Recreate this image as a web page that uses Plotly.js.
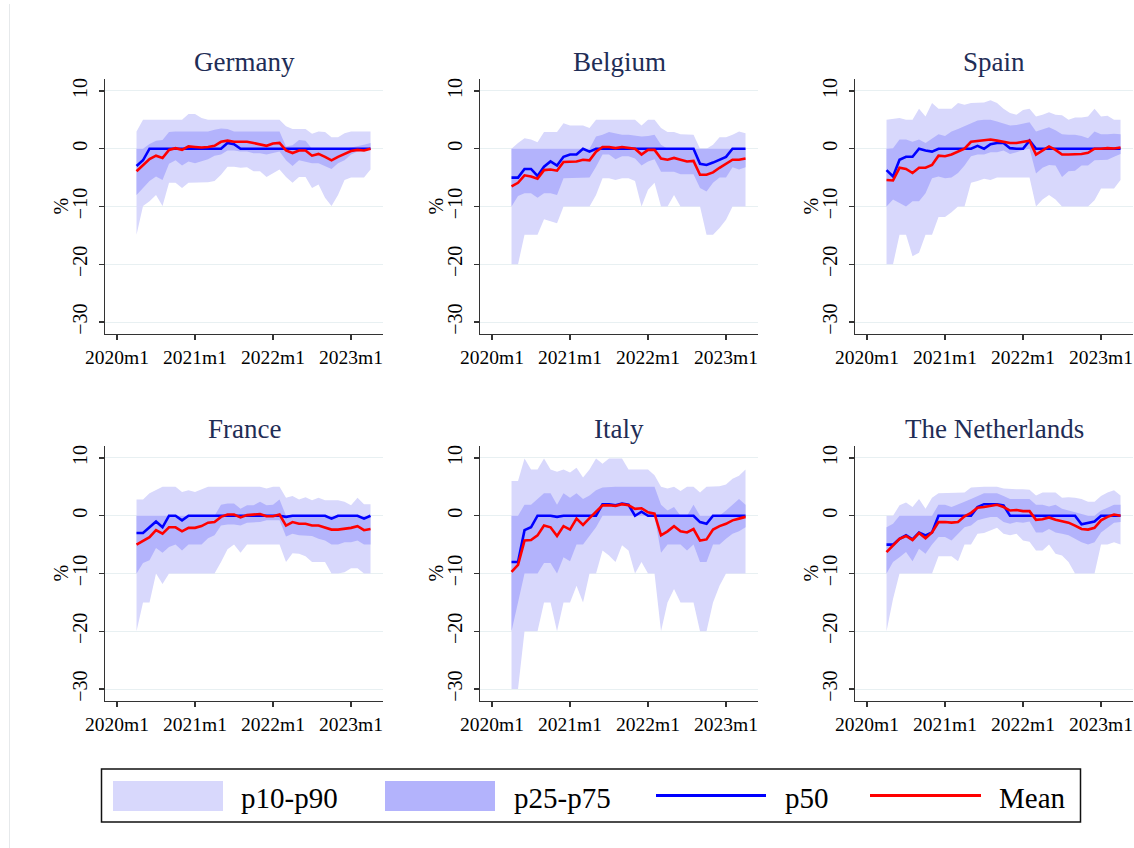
<!DOCTYPE html>
<html>
<head>
<meta charset="utf-8">
<script src="https://cdn.plot.ly/plotly-3.0.1.min.js"></script>
<style>html,body{margin:0;padding:0;background:#fff;}#chart{width:1134px;height:848px;}</style>
</head>
<body>
<div id="chart"></div>
<script>
// ---------- DATA ----------
const months = ['2020m4','2020m5','2020m6','2020m7','2020m8','2020m9','2020m10','2020m11','2020m12',
  '2021m1','2021m2','2021m3','2021m4','2021m5','2021m6','2021m7','2021m8','2021m9','2021m10','2021m11','2021m12',
  '2022m1','2022m2','2022m3','2022m4','2022m5','2022m6','2022m7','2022m8','2022m9','2022m10','2022m11','2022m12',
  '2023m1','2023m2','2023m3','2023m4'];
const tickLabels = ['2020m1','2021m1','2022m1','2023m1'];
const yTicks = [-30,-20,-10,0,10];
const countries = ['Germany','Belgium','Spain','France','Italy','The Netherlands'];
const seriesNames = ['p10-p90','p25-p75','p50','Mean'];
const yTitle = '%';

// Germany
const de_p10 = [-14.9,-9.9,-9.1,-8,-9.9,-5.9,-5.9,-6.8,-5.9,-5.9,-5.9,-5.8,-5.6,-4.5,-3.1,-3.1,-3.3,-3.2,-3.9,-3.9,-4.9,-4.2,-3.6,-4.9,-5.9,-4.9,-4.9,-6.8,-6.2,-8.5,-9.9,-8,-5.4,-5,-5,-5,-3.6];
const de_p25 = [-8,-6.8,-5.6,-4.8,-5.4,-2.6,-2,-2.9,-2.2,-2.5,-2.2,-1.8,-1.2,-1,-0.3,-0.3,-0.5,-0.5,-0.8,-0.8,-1,-0.8,-0.5,-2,-3,-2,-2.2,-2.5,-2.5,-3,-3.5,-2.5,-2,-1,-0.5,-0.3,0];
const de_p50 = [-3,-2,0,0,0,0,0,0,0,0,0,0,0,0,1,0.8,0,0,0,0,0,0,0,0,0,0,0,0,0,0,0,0,0,0,0,0,0];
const de_p75 = [0,0,0.8,1.4,1.5,2.9,3,3,3,3,3,3,3.3,3.5,3.4,3,3,3,3,3,3,3,3,0.4,0.6,1.5,1.4,0,0,0,0,0,0,0.2,0.4,0.7,1];
const de_p90 = [3,5,5,5,5,5,5,5,6,6,5.3,5,5,5,5,5,5,5,5,5,5,5,5,3.9,3.4,3.4,3.4,2.6,3,2.9,2,2,2.7,3,3,3.1,3];
const de_mean = [-3.9,-2.8,-1.8,-1.2,-1.6,-0.2,0.1,-0.2,0.4,0.3,0.2,0.3,0.5,1.2,1.4,1.2,1.2,1.2,1,0.8,0.5,0.9,1,-0.3,-0.75,-0.3,-0.3,-1.2,-0.9,-1.4,-2,-1.4,-0.9,-0.4,-0.2,-0.3,0];

// Belgium
const be_p10 = [-20,-20,-14.9,-14.9,-14.9,-12.2,-12.6,-12.9,-10,-10,-10,-10,-10,-8,-5.1,-5.1,-5.4,-5.1,-5.1,-5.6,-10,-7.1,-5.9,-10,-10,-8,-10,-10,-10,-10,-14.9,-14.9,-13.7,-12.3,-10,-10,-10];
const be_p25 = [-10,-8.2,-7.7,-7.7,-8.5,-7.7,-7.7,-8,-5.1,-5.1,-5,-5,-5,-3.1,-1,-1,-1.8,-1.3,-1.3,-1.7,-2.9,-2.2,-1.8,-4,-4,-4,-4.4,-4.4,-4.4,-6.8,-7.4,-5.9,-5,-5,-3.2,-3.6,-3.2];
const be_p50 = [-5,-5,-3.5,-3.5,-4.7,-3.1,-2.2,-2.9,-1.4,-1,-1,0,-0.5,0,0,0,0,0,0,0,0,0,0,0,0,0,0,0,0,-2.6,-2.8,-2.4,-1.9,-1.4,0,0,0];
const be_p75 = [0,0,0,0,0,0,0,0,0,0,0,0,0,2.1,2.4,2.9,2.7,2.4,2.4,2.2,2.1,2.2,2.4,0.7,0,0,0,0,0,0,0,0,0,0,0,0,0];
const be_p90 = [0,1,1.8,1.6,1.1,2.9,2.9,2.9,4.4,4,4,4,3.6,5,5,5,5,5,5,5,4,5,5,3.6,2.9,2.9,2.5,2.4,2.4,0,0,0.7,2,2,2.4,3,2.7];
const be_mean = [-6.5,-5.9,-4.6,-4.8,-5.2,-3.7,-3.6,-3.8,-2.3,-2.3,-2.2,-1.9,-2,-0.5,0.3,0.3,0.1,0.3,0.1,0,-1,-0.2,-0.2,-1.7,-1.9,-1.6,-1.9,-2.2,-2.1,-4.5,-4.5,-4.1,-3.3,-2.6,-1.9,-1.9,-1.7];

// Spain
const es_p10 = [-20,-20,-14.9,-14.9,-18.6,-18,-14.9,-14.9,-11.8,-11.8,-11,-10,-10,-5.9,-5.6,-5.2,-5.4,-5,-5,-5,-5,-5,-5,-10,-8.8,-8,-8.8,-10,-10,-10,-10,-10,-8.9,-6.9,-6.9,-6.9,-5.4];
const es_p25 = [-10,-8.8,-9.4,-10,-9.1,-9.1,-7.7,-5.1,-4.8,-5.1,-5,-4.2,-2.9,-1.3,-1,-1,-0.6,-0.6,-0.3,-0.9,-0.6,-0.2,0,-4.3,-3.3,-2.8,-2.9,-4.9,-3.9,-3.8,-2.9,-2.9,-2,-1.9,-1.9,-1.4,-0.9];
const es_p50 = [-3.7,-4.8,-1.9,-1.4,-1.4,0,-0.3,-0.5,0,0,0,0,0,0,0.5,0,0.8,1,1,0.1,0,0,1.4,0,0,0,0,0,0,0,0,0,0,0,0,0,0];
const es_p75 = [0,0.1,1.6,1.6,1.2,1.6,1,1.8,2.5,2.2,3,3.4,3.9,4.4,4.9,5,5,4.7,4.4,4,4.1,4.3,4.6,3,3.3,3.7,3.2,2.5,2.4,2.4,2.2,1.8,3,2.5,2.5,2.6,2.5];
const es_p90 = [5,5.1,5.3,5,5,6.9,5.6,7.9,6.9,6.9,6.9,7.9,7.6,7.9,7.9,8,8.4,7.9,6.9,6.2,5.9,6.7,6.9,5.6,5.9,6.3,5.9,5.8,5,5.4,5.4,5.6,6.9,5.6,5.7,5,5];
const es_mean = [-5.4,-5.5,-3.3,-3.5,-4.2,-3.3,-3.3,-2.8,-1.2,-1.3,-1,-0.5,0,1.2,1.3,1.4,1.6,1.4,1.2,1,1,1.2,1.4,-1,-0.3,0.4,-0.2,-1,-1,-1,-0.9,-0.7,0,0,0.1,0.05,0.2];

// France
const fr_p10 = [-20,-15,-15,-10,-11.8,-10,-10,-10,-10,-10,-10,-10,-10,-8,-5.8,-5,-6.4,-5,-5,-5,-5,-5,-5,-8,-6.5,-6.6,-7,-8,-8,-8,-10,-10,-9.8,-9.1,-9.1,-10,-10];
const fr_p25 = [-10,-8.2,-7.7,-5.6,-6.4,-5.4,-5,-6,-5,-5,-5,-3.9,-3.4,-1.7,-1.5,-1.5,-1.7,-1.2,-1.1,-1.1,-0.8,-0.8,-0.8,-3.6,-3.1,-3.4,-3.4,-3.5,-4,-4.3,-5,-5,-4.6,-4.6,-4.3,-5,-5];
const fr_p50 = [-3,-3,-2,-1,-2,0,0,-0.8,0,0,0,0,0,0,0,0,0,0,0,0,0,0,0,-0.2,0,0,0,0,0,0,-0.5,0,0,0,0,-0.5,0];
const fr_p75 = [0,0,0,0,0,0,0,0,0,0,0,0,0,1.9,2.1,2.1,1.2,1.8,1.8,2.4,1.8,1.9,2.8,0,0,0,0,0,0,0,0,0,0,0,0,0,0];
const fr_p90 = [2.8,2.8,3.9,4.5,5,5,5,4.1,4.4,4.1,4.5,5,5,5,5.1,5,5,5,5,5,4.7,5,5,3.1,3.4,2.8,3.2,2.7,3.1,2.7,2.7,2.7,2.4,1.8,3.1,2,2];
const fr_mean = [-5,-4.3,-3.7,-2.5,-3.1,-2,-2,-2.7,-2.1,-2.1,-1.8,-1.2,-1.1,-0.2,0.2,0.2,-0.3,0.1,0.2,0.3,-0.1,-0.1,0.2,-1.7,-1.1,-1.4,-1.4,-1.7,-1.7,-2,-2.4,-2.4,-2.3,-2.1,-1.8,-2.5,-2.3];

// Italy
const it_p10 = [-30,-30,-20,-20,-20,-15,-15,-20,-15,-15,-12.1,-15,-10,-10,-6,-6.9,-8,-5.1,-6,-10,-8,-10,-10,-20,-15,-12.7,-15,-15,-15,-20,-20,-15,-12.1,-10,-10,-10,-10];
const it_p25 = [-20,-15,-10,-10,-10,-8.2,-8.2,-10,-7.2,-7.9,-5,-5,-3.4,-2,0,0,0,0,0,0,0,0,0,-6.4,-5,-5,-5,-6,-5,-8,-8,-5,-5,-4,-3.1,-2.7,-2];
const it_p50 = [-8,-8,-2.5,-2,0,0,0,-0.2,0,0,0,0,0,0,2,2,1.8,2.1,1.9,0,0.7,0,0,0,0,0,0,0,0,-1.1,-1.4,0,0,0,0,0,0];
const it_p75 = [0,0,1.9,1.9,2.9,3.9,3.9,1.9,3.9,3.1,3.9,2.9,3.5,4.4,4.9,5,5,5,5,5,5,5,5,1.9,0.9,1.5,0,0,1.9,0,0,0,0,0.9,1.9,2.9,1.9];
const it_p90 = [6,6,9.9,8,8,9.9,8,7.6,8,7.5,8.3,6.6,8,9.9,9,9.9,9.9,9.9,8,8,8,8,7,5,4.7,5,4.3,5,5,4,5,5,5.1,5.4,6.4,6.9,8];
const it_mean = [-9.7,-8.5,-4.3,-4.2,-3.4,-1.7,-2,-3.5,-1.8,-2.4,-0.5,-1.6,-0.4,0.75,1.8,1.8,1.7,2,1.8,1.2,1.3,0.6,0.35,-3.4,-2.7,-1.8,-2.7,-2.9,-2.3,-4.3,-4.1,-2.4,-1.8,-1.4,-0.8,-0.5,-0.2];

// The Netherlands
const nl_p10 = [-20,-14.4,-10,-10,-10,-10,-10,-10,-7,-7,-7,-7.9,-5,-5,-3.1,-3,-2.5,-2.1,-3.1,-3.4,-3.1,-4.3,-4.5,-6,-6,-5,-6.6,-6.9,-8,-10,-10,-10,-10,-5,-5,-4.6,-5];
const nl_p25 = [-10,-8,-7.2,-6.3,-7.9,-5.7,-6.6,-5,-3.7,-3.7,-4.3,-3.1,-2,-1.7,-0.8,-0.5,-0.2,-0.2,-1.1,-1.4,-1.1,-1.2,-1,-2.9,-2.9,-2.3,-2.9,-3.1,-3.4,-4,-4.6,-5,-4.6,-2.9,-2,-1.2,-1.1];
const nl_p50 = [-5,-5,-4,-3.4,-4.1,-2.9,-3.4,-2.9,0,0,-0.1,0,0,0,1.5,2,2,2,1.8,0,0,0,0,0,0,0,0,0,0,0,-1.5,-1.3,-1,0,0,0,0];
const nl_p75 = [-2,-1.4,0,0,0,0,0,0,1.9,1.9,1.5,1.9,2.4,2.9,3.4,3.9,3.9,3.9,3.4,2.9,2.9,2.9,2.9,1.9,1.9,1.6,1.9,1.2,0.9,0.6,0.35,0,0,0.9,1.4,1.9,1.9];
const nl_p90 = [0,0,1.8,2.3,1.5,2.9,1.2,3.1,3.9,3.9,3.9,4,4,4.9,5,5,5,5,4.7,4.6,4.6,4.6,4.5,3.5,4,4,4,3.1,3.2,3.1,2.9,2.4,2.4,3.4,4,4.4,3.5];
const nl_mean = [-6.3,-5.1,-4,-3.5,-4.2,-3,-3.9,-2.9,-1.1,-1.1,-1.2,-1.1,-0.1,0.5,1.4,1.5,1.7,1.9,1.5,0.9,1,0.8,0.8,-0.7,-0.6,-0.3,-0.7,-1,-1.2,-1.7,-2.3,-2.4,-2.1,-0.8,-0.2,0.2,0];

// ---------- BUILD ----------
const panelData = [
  [de_p10,de_p25,de_p50,de_p75,de_p90,de_mean],
  [be_p10,be_p25,be_p50,be_p75,be_p90,be_mean],
  [es_p10,es_p25,es_p50,es_p75,es_p90,es_mean],
  [fr_p10,fr_p25,fr_p50,fr_p75,fr_p90,fr_mean],
  [it_p10,it_p25,it_p50,it_p75,it_p90,it_mean],
  [nl_p10,nl_p25,nl_p50,nl_p75,nl_p90,nl_mean]
];
function monthNum(s){ const p = s.split('m'); return (parseInt(p[0])-2020)*12 + parseInt(p[1]) - 1; }
const xs = months.map(monthNum);
const tickVals = tickLabels.map(monthNum);

const C_LIGHT = 'rgb(216,216,252)';
const C_DARK = 'rgb(179,179,252)';
const C_P50 = '#0000ff';
const C_MEAN = '#ff0000';
const SERIF = 'Liberation Serif, Times New Roman, serif';

const W = 1134, H = 848;
const colL = [105, 480, 855], rowT = [79, 446], PW = 278, PH = 255;

const traces = [];
const layout = {
  width: W, height: H, margin: {l:0,r:0,t:0,b:0},
  paper_bgcolor: '#fff', plot_bgcolor: '#fff',
  showlegend: false, shapes: [], annotations: [],
  font: {family: SERIF, color: '#000'}
};

panelData.forEach((d, k) => {
  const n = k + 1;
  const xa = 'x' + (n === 1 ? '' : n), ya = 'y' + (n === 1 ? '' : n);
  const base = {x: xs, xaxis: xa, yaxis: ya, mode: 'lines', hoverinfo: 'skip'};
  traces.push(Object.assign({}, base, {y: d[0], line: {width: 0, color: C_LIGHT}, fill: 'none'}));
  traces.push(Object.assign({}, base, {y: d[4], line: {width: 0, color: C_LIGHT}, fill: 'tonexty', fillcolor: C_LIGHT}));
  traces.push(Object.assign({}, base, {y: d[1], line: {width: 0, color: C_DARK}, fill: 'none'}));
  traces.push(Object.assign({}, base, {y: d[3], line: {width: 0, color: C_DARK}, fill: 'tonexty', fillcolor: C_DARK}));
  traces.push(Object.assign({}, base, {y: d[2], line: {width: 2.6, color: C_P50}}));
  traces.push(Object.assign({}, base, {y: d[5], line: {width: 2.6, color: C_MEAN}}));

  const col = k % 3, row = Math.floor(k / 3);
  const L = colL[col], T = rowT[row];
  const xKey = 'xaxis' + (n === 1 ? '' : n), yKey = 'yaxis' + (n === 1 ? '' : n);
  layout[xKey] = {
    domain: [L / W, (L + PW) / W], anchor: ya,
    range: [-1.85, 40.92], tickmode: 'array', tickvals: tickVals, ticktext: tickLabels,
    ticks: 'outside', ticklen: 5, tickwidth: 1.2, tickcolor: '#333',
    showline: true, linecolor: '#333', linewidth: 1.3, showgrid: false, zeroline: false,
    tickfont: {family: SERIF, size: 19.5, color: '#000'}, fixedrange: true
  };
  layout[yKey] = {
    domain: [1 - (T + PH) / H, 1 - T / H], anchor: xa,
    range: [-32.07, 12.07], tickmode: 'array', tickvals: yTicks,
    tickangle: -90, ticks: 'outside', ticklen: 5, tickwidth: 1.2, tickcolor: '#333',
    showline: true, linecolor: '#333', linewidth: 1.3,
    showgrid: true, gridcolor: '#e8f0f2', gridwidth: 1, zeroline: false,
    tickfont: {family: SERIF, size: 20, color: '#000'}, ticklabelstandoff: 4,
    fixedrange: true
  };
  // y-axis title "%", rotated, placed beside the tick labels
  layout.annotations.push({
    text: yTitle, xref: 'paper', yref: 'paper', x: (L - 45) / W, y: 1 - (T + PH / 2) / H,
    xanchor: 'center', yanchor: 'middle', textangle: -90, showarrow: false,
    font: {family: SERIF, size: 20, color: '#000'}
  });
  layout.annotations.push({
    text: countries[k], xref: 'paper', yref: 'paper', x: (L + PW / 2) / W, y: 1 - (T - 17) / H,
    xanchor: 'center', yanchor: 'middle', showarrow: false,
    font: {family: SERIF, size: 27, color: '#1f2d56'}
  });
});

// ---------- LEGEND (drawn manually) ----------
function px(x){ return x / W; } function py(y){ return 1 - y / H; }
layout.shapes.push({type:'rect', xref:'paper', yref:'paper', x0:px(101.5), x1:px(1080.5), y0:py(822), y1:py(769), line:{color:'#111', width:1.5}, fillcolor:'rgba(0,0,0,0)'});
layout.shapes.push({type:'rect', xref:'paper', yref:'paper', x0:px(113), x1:px(223), y0:py(811), y1:py(781), line:{width:0}, fillcolor:C_LIGHT});
layout.shapes.push({type:'rect', xref:'paper', yref:'paper', x0:px(385), x1:px(495), y0:py(811), y1:py(781), line:{width:0}, fillcolor:C_DARK});
layout.shapes.push({type:'line', xref:'paper', yref:'paper', x0:px(656), x1:px(766), y0:py(795.5), y1:py(795.5), line:{color:C_P50, width:3}});
layout.shapes.push({type:'line', xref:'paper', yref:'paper', x0:px(870), x1:px(981), y0:py(795.5), y1:py(795.5), line:{color:C_MEAN, width:3}});
const legX = [239, 512, 783, 997];
seriesNames.forEach((s, i) => {
  layout.annotations.push({text: s, xref:'paper', yref:'paper', x: px(legX[i]), y: py(798), xanchor:'left', yanchor:'middle',
    showarrow:false, font:{family:SERIF, size:29, color:'#000'}});
});
// faint left border of the graph region
layout.shapes.push({type:'line', xref:'paper', yref:'paper', x0:px(9.5), x1:px(9.5), y0:py(4), y1:0, line:{color:'#e6e9eb', width:1}});

Plotly.newPlot('chart', traces, layout, {staticPlot: true, displayModeBar: false});
</script>
</body>
</html>
